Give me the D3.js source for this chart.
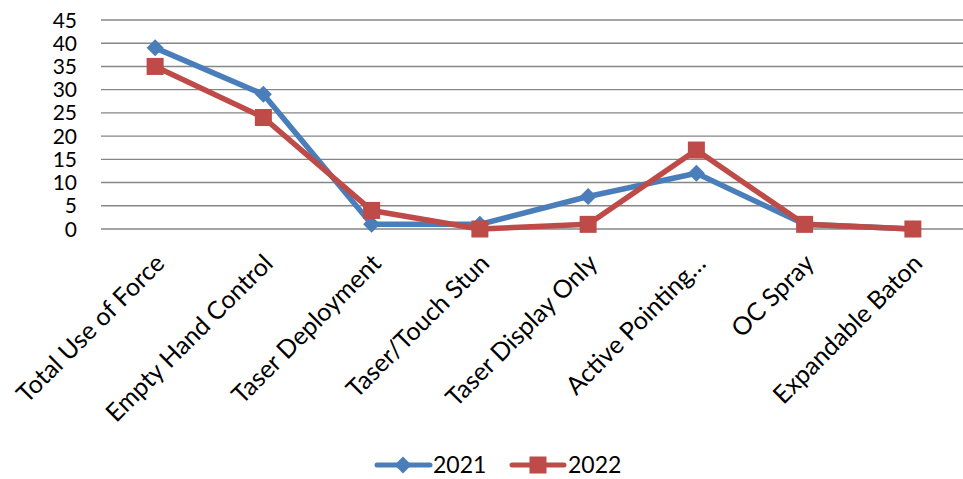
<!DOCTYPE html>
<html><head><meta charset="utf-8">
<script src="https://cdn.jsdelivr.net/npm/d3@7"></script>
<style>body{margin:0;background:#fff}svg{display:block}text{font-family:Lato,"Open Sans",sans-serif}</style>
</head><body>
<svg id="c" width="963" height="479"></svg>
<script>
const categories = ["Total Use of Force","Empty Hand Control","Taser Deployment","Taser/Touch Stun","Taser Display Only","Active Pointing…","OC Spray","Expandable Baton"];
const series2021 = [39,29,1,1,7,12,1,0];
const series2022 = [35,24,4,0,1,17,1,0];
const yTicks = [0,5,10,15,20,25,30,35,40,45];

const svg = d3.select("#c");
const x = d3.scalePoint().domain(categories).range([101,967]).padding(0.5);
const y = d3.scaleLinear().domain([0,45]).range([229,20]);

// gridlines
svg.append("g").selectAll("line").data(yTicks).join("line")
  .attr("x1",101).attr("x2",963).attr("y1",d=>y(d)).attr("y2",d=>y(d))
  .attr("stroke","#868686").attr("stroke-width",1.4);

// y axis labels
svg.append("g").selectAll("text").data(yTicks).join("text")
  .attr("x",77).attr("y",d=>y(d)).attr("dy","0.36em").attr("text-anchor","end")
  .attr("font-size",21).attr("fill","#000").text(d=>d);

// x labels
svg.append("g").selectAll("text").data(categories).join("text")
  .attr("transform",d=>`translate(${x(d)+11},${265}) rotate(-45)`)
  .attr("text-anchor","end").attr("font-size",25).attr("fill","#000").text(d=>d);

const line = d3.line().x((d,i)=>x(categories[i])).y(d=>y(d));
const blue="#4a7ebb", red="#be4b48";

svg.append("path").datum(series2021).attr("d",line).attr("fill","none").attr("stroke",blue).attr("stroke-width",5.5).attr("stroke-linejoin","round");
svg.append("path").datum(series2022).attr("d",line).attr("fill","none").attr("stroke",red).attr("stroke-width",5.5).attr("stroke-linejoin","round");

const diamond = (cx,cy,r)=>`M${cx},${cy-r}L${cx+r},${cy}L${cx},${cy+r}L${cx-r},${cy}Z`;
svg.append("g").selectAll("path").data(series2021).join("path")
  .attr("d",(d,i)=>diamond(x(categories[i]),y(d),8.5)).attr("fill",blue);
svg.append("g").selectAll("rect").data(series2022).join("rect")
  .attr("x",(d,i)=>x(categories[i])-8.5).attr("y",d=>y(d)-8.5).attr("width",17).attr("height",17).attr("fill",red);

// legend
const ly=465;
const lg=svg.append("g");
lg.append("line").attr("x1",377).attr("x2",430).attr("y1",ly).attr("y2",ly).attr("stroke",blue).attr("stroke-width",5).attr("stroke-linecap","round");
lg.append("path").attr("d",diamond(403,ly,8.5)).attr("fill",blue);
lg.append("text").attr("x",433).attr("y",ly).attr("dy","0.36em").attr("font-size",23).text("2021");
lg.append("line").attr("x1",512).attr("x2",564).attr("y1",ly).attr("y2",ly).attr("stroke",red).attr("stroke-width",5).attr("stroke-linecap","round");
lg.append("rect").attr("x",529.5).attr("y",ly-8.5).attr("width",17).attr("height",17).attr("fill",red);
lg.append("text").attr("x",568).attr("y",ly).attr("dy","0.36em").attr("font-size",23).text("2022");
</script>
</body></html>
